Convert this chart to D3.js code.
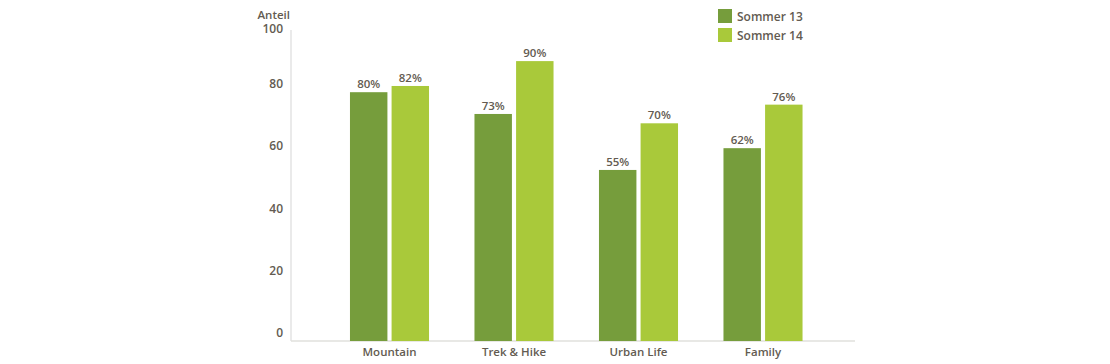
<!DOCTYPE html>
<html><head><meta charset="utf-8">
<script src="https://cdn.jsdelivr.net/npm/d3@7"></script>
<style>
body{margin:0;background:#fff;}
text{font-family:"Open Sans",sans-serif;font-weight:600;fill:#635b51;}
</style></head>
<body><svg id="c" width="1110" height="364"></svg>
<script>
const categories = ["Mountain", "Trek & Hike", "Urban Life", "Family"];
const seriesNames = ["Sommer 13", "Sommer 14"];
const sommer13 = [80, 73, 55, 62];
const sommer14 = [82, 90, 70, 76];
const yTicks = [0, 20, 40, 60, 80, 100];
const yTitle = "Anteil";
const colors = ["#769d3c", "#a9c93a"];

const svg = d3.select("#c");
const y = d3.scaleLinear().domain([0, 100]).range([341, 30]);
const x = d3.scaleBand().domain(categories).range([327.25, 825.25]).paddingInner(0.365).paddingOuter(0.1825);
const xs = d3.scaleBand().domain(seriesNames).range([0, x.bandwidth()]).paddingInner(0.1);
const seriesVals = [sommer13, sommer14];

// axes lines
svg.append("line").attr("x1", 291).attr("x2", 291).attr("y1", y(100)).attr("y2", y(0))
  .attr("stroke", "#e3e3e3").attr("stroke-width", 1.5);
svg.append("line").attr("x1", 291).attr("x2", 855).attr("y1", y(0)).attr("y2", y(0))
  .attr("stroke", "#e0e0dc").attr("stroke-width", 1.5);

// y tick labels
svg.append("g").selectAll("text").data(yTicks).join("text")
  .attr("x", 283).attr("y", d => Math.max(y(d) - 4, 33))
  .attr("text-anchor", "end").attr("font-size", 12).text(d => d);
svg.append("text").attr("x", 290).attr("y", 19).attr("text-anchor", "end")
  .attr("font-size", 11.5).text(yTitle);

// bars
const rows = categories.map((c, i) => ({c, vals: seriesNames.map((s, j) => ({s, v: seriesVals[j][i], j}))}));
const g = svg.append("g").selectAll("g").data(rows).join("g")
  .attr("transform", d => `translate(${x(d.c)},0)`);
g.selectAll("rect").data(d => d.vals).join("rect")
  .attr("x", d => xs(d.s)).attr("width", xs.bandwidth())
  .attr("y", d => y(d.v)).attr("height", d => y(0) - y(d.v))
  .attr("fill", d => colors[d.j]);
g.selectAll("text.v").data(d => d.vals).join("text").attr("class", "v")
  .attr("x", d => xs(d.s) + xs.bandwidth() / 2).attr("y", d => y(d.v) - 4)
  .attr("text-anchor", "middle").attr("font-size", 11.5).text(d => d.v + "%");

// x labels
svg.append("g").selectAll("text").data(categories).join("text")
  .attr("x", d => x(d) + x.bandwidth() / 2).attr("y", 356)
  .attr("text-anchor", "middle").attr("font-size", 11.5).text(d => d);

// legend
const lg = svg.append("g").selectAll("g").data(seriesNames).join("g")
  .attr("transform", (d, i) => `translate(718,${9 + i * 19})`);
lg.append("rect").attr("width", 14).attr("height", 14).attr("fill", (d, i) => colors[i]);
lg.append("text").attr("x", 19).attr("y", 11.5).attr("font-size", 12).text(d => d);
</script></body></html>
